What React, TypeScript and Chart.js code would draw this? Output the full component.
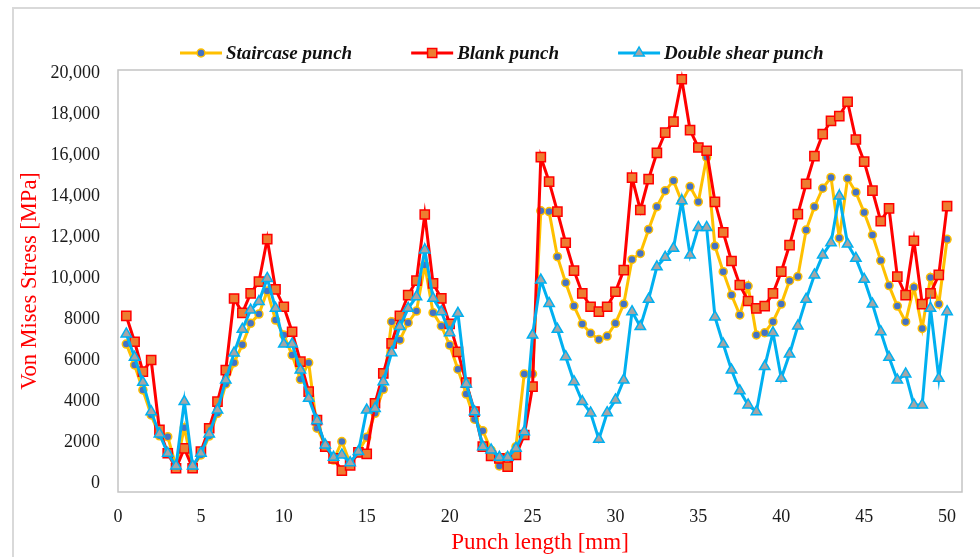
import React, { useEffect, useRef } from 'react';
import { Chart, registerables } from 'chart.js';

Chart.register(...registerables);

const punchLength = [
  0.5, 1, 1.5, 2, 2.5, 3, 3.5, 4, 4.5, 5, 5.5, 6, 6.5, 7, 7.5, 8, 8.5, 9, 9.5, 10,
  10.5, 11, 11.5, 12, 12.5, 13, 13.5, 14, 14.5, 15, 15.5, 16, 16.5, 17, 17.5, 18, 18.5, 19, 19.5, 20,
  20.5, 21, 21.5, 22, 22.5, 23, 23.5, 24, 24.5, 25, 25.5, 26, 26.5, 27, 27.5, 28, 28.5, 29, 29.5, 30,
  30.5, 31, 31.5, 32, 32.5, 33, 33.5, 34, 34.5, 35, 35.5, 36, 36.5, 37, 37.5, 38, 38.5, 39, 39.5, 40,
  40.5, 41, 41.5, 42, 42.5, 43, 43.5, 44, 44.5, 45, 45.5, 46, 46.5, 47, 47.5, 48, 48.5, 49, 49.5, 50,
];

const staircasePunch = [
  6780, 5760, 4540, 3320, 2300, 2260, 800, 2700, 770, 1370, 2290, 3400, 4830, 5870, 6750, 7790, 8240, 9370, 7950, 7220,
  6240, 5060, 5870, 2670, 1850, 1120, 2020, 960, 1530, 2230, 3400, 4570, 7870, 6980, 7820, 8390, 10630, 8310, 7660, 6730,
  5550, 4340, 3110, 2550, 1600, 830, 1290, 1770, 5320, 5320, 13280, 13240, 11040, 9770, 8630, 7760, 7300, 7000, 7170, 7790,
  8730, 10910, 11200, 12370, 13480, 14260, 14750, 13720, 14460, 13720, 15890, 11560, 10310, 9170, 8200, 9610, 7220, 7330, 7870, 8730,
  9870, 10070, 12340, 13480, 14380, 14910, 11950, 14860, 14180, 13200, 12100, 10850, 9630, 8630, 7870, 9550, 7540, 10030, 8730, 11890,
];

const blankPunch = [
  8150, 6890, 5430, 6000, 2590, 1450, 720, 1690, 720, 1530, 2670, 3970, 5510, 9000, 8300, 9250, 9820, 11900, 9450, 8600,
  7380, 5920, 4460, 3070, 1770, 1200, 600, 860, 1490, 1420, 3890, 5350, 6810, 8150, 9170, 9870, 13100, 9740, 9010, 7760,
  6400, 4900, 3480, 1770, 1320, 1200, 800, 1370, 2340, 4700, 15900, 14700, 13240, 11720, 10360, 9250, 8600, 8360, 8600, 9330,
  10390, 14900, 13320, 14830, 16110, 17090, 17630, 19700, 17220, 16370, 16210, 13720, 12230, 10830, 9660, 8880, 8520, 8630, 9250, 10310,
  11610, 13120, 14590, 15950, 17020, 17670, 17900, 18600, 16760, 15680, 14260, 12780, 13400, 10070, 9170, 11820, 8730, 9250, 10150, 13510,
];

const doubleShearPunch = [
  7270, 6130, 4910, 3480, 2390, 1450, 830, 3970, 830, 1450, 2390, 3560, 5020, 6340, 7500, 8440, 8850, 9980, 8520, 6780,
  6780, 5510, 4130, 3040, 1850, 1250, 1370, 990, 1530, 3560, 3640, 4940, 6360, 7630, 8520, 9090, 11370, 9010, 8360, 7330,
  8280, 4830, 3480, 1770, 1610, 1250, 1250, 1690, 2500, 7220, 9900, 8760, 7500, 6160, 4940, 3970, 3420, 2130, 3430, 4050,
  5020, 8360, 7630, 8960, 10550, 11010, 11450, 13770, 11120, 12470, 12470, 8100, 6780, 5510, 4500, 3810, 3480, 5680, 7330, 5110,
  6290, 7660, 8960, 10150, 11120, 11720, 14000, 11660, 10960, 9940, 8730, 7380, 6130, 5020, 5320, 3810, 3810, 8520, 5110, 8360,
];

const xTicks = [0, 5, 10, 15, 20, 25, 30, 35, 40, 45, 50];
const yTicks = [0, 2000, 4000, 6000, 8000, 10000, 12000, 14000, 16000, 18000, 20000];
const yTickLabels = ['0', '2000', '4000', '6000', '8000', '10,000', '12,000', '14,000', '16,000', '18,000', '20,000'];

const seriesNames = ['Staircase punch', 'Blank punch', 'Double shear punch'];

function drawMarker(ctx: CanvasRenderingContext2D, style: string, x: number, y: number, r: number, fill: string, stroke: string, bw: number) {
  ctx.save();
  ctx.beginPath();
  if (style === 'rect') {
    const s = Math.SQRT1_2 * r;
    ctx.rect(x - s, y - s, 2 * s, 2 * s);
  } else if (style === 'triangle') {
    ctx.moveTo(x, y - r);
    ctx.lineTo(x + r * 0.866, y + r * 0.5);
    ctx.lineTo(x - r * 0.866, y + r * 0.5);
    ctx.closePath();
  } else {
    ctx.arc(x, y, r, 0, Math.PI * 2);
  }
  ctx.fillStyle = fill;
  ctx.fill();
  ctx.lineWidth = bw;
  ctx.strokeStyle = stroke;
  ctx.stroke();
  ctx.restore();
}

const framePlugin = {
  id: 'frame',
  beforeDatasetsDraw(chart: any) {
    const { ctx, chartArea } = chart;
    ctx.save();
    ctx.strokeStyle = '#d9d9d9';
    ctx.lineWidth = 2;
    ctx.strokeRect(13, 8, 1000, 600);
    ctx.strokeStyle = '#c4c4c4';
    ctx.lineWidth = 1.5;
    ctx.strokeRect(chartArea.left, chartArea.top, chartArea.right - chartArea.left, chartArea.bottom - chartArea.top);
    ctx.restore();
  },
};

const legendPlugin = {
  id: 'lineLegend',
  afterDraw(chart: any) {
    const ctx: CanvasRenderingContext2D = chart.ctx;
    ctx.save();
    ctx.font = 'italic bold 19px "Liberation Serif", "Times New Roman", serif';
    ctx.textBaseline = 'middle';
    ctx.textAlign = 'left';
    let x = 180;
    const y = 53;
    chart.data.datasets.forEach((ds: any) => {
      ctx.strokeStyle = ds.borderColor;
      ctx.lineWidth = 3;
      ctx.beginPath();
      ctx.moveTo(x, y);
      ctx.lineTo(x + 42, y);
      ctx.stroke();
      drawMarker(ctx, ds.pointStyle, x + 21, y, ds.pointRadius, ds.pointBackgroundColor, ds.borderColor, ds.pointBorderWidth);
      ctx.fillStyle = '#111';
      ctx.fillText(ds.label, x + 46, y + 1);
      x += 46 + ctx.measureText(ds.label).width + 59;
    });
    ctx.restore();
  },
};

export default function App() {
  const canvasRef = useRef<HTMLCanvasElement | null>(null);

  useEffect(() => {
    document.body.style.margin = '0';
    const canvas = canvasRef.current;
    if (!canvas) return;
    const toPoints = (vals: number[]) => vals.map((v, i) => ({ x: punchLength[i], y: v }));
    const chart = new Chart(canvas, {
      type: 'line',
      data: {
        datasets: [
          {
            label: seriesNames[0],
            data: toPoints(staircasePunch),
            borderColor: '#FFC000',
            backgroundColor: '#FFC000',
            borderWidth: 3,
            pointStyle: 'circle',
            pointRadius: 4,
            pointBorderWidth: 1.5,
            pointBackgroundColor: '#4472C4',
            pointBorderColor: '#FFC000',
            order: 2,
            tension: 0,
          },
          {
            label: seriesNames[1],
            data: toPoints(blankPunch),
            borderColor: '#FF0000',
            backgroundColor: '#FF0000',
            borderWidth: 3,
            pointStyle: 'rect',
            pointRadius: 6.5,
            pointBorderWidth: 1.5,
            pointBackgroundColor: '#ED7D31',
            pointBorderColor: '#FF0000',
            order: 1,
            tension: 0,
          },
          {
            label: seriesNames[2],
            data: toPoints(doubleShearPunch),
            borderColor: '#00B0F0',
            backgroundColor: '#00B0F0',
            borderWidth: 3,
            pointStyle: 'triangle',
            pointRadius: 6,
            pointBorderWidth: 1.5,
            pointBackgroundColor: '#A5A5A5',
            pointBorderColor: '#00B0F0',
            order: 0,
            tension: 0,
          },
        ],
      },
      options: {
        responsive: false,
        animation: false,
        layout: { padding: { top: 70, right: 18, bottom: 0, left: 0 } },
        plugins: {
          legend: { display: false },
          tooltip: { enabled: false },
          title: { display: false },
        },
        scales: {
          x: {
            type: 'linear',
            min: 0,
            max: 50.9,
            afterBuildTicks: (scale: any) => {
              scale.ticks = xTicks.map((v) => ({ value: v }));
            },
            afterFit: (scale: any) => {
              scale.height = 65;
            },
            grid: { display: false, drawTicks: false },
            border: { display: false },
            ticks: {
              padding: 14,
              autoSkip: false,
              maxRotation: 0,
              color: '#1a1a1a',
              font: { family: '"Liberation Serif", "Times New Roman", serif', size: 18 },
              callback: (v: any) => String(v),
            },
            title: {
              display: true,
              text: 'Punch length [mm]',
              color: '#FF0000',
              font: { family: '"Liberation Serif", "Times New Roman", serif', size: 23 },
              padding: { top: 0, bottom: 0 },
            },
          },
          y: {
            type: 'linear',
            min: -440,
            max: 20150,
            afterBuildTicks: (scale: any) => {
              scale.ticks = yTicks.map((v) => ({ value: v }));
            },
            afterFit: (scale: any) => {
              scale.width = 118;
            },
            grid: { display: false, drawTicks: false },
            border: { display: false },
            ticks: {
              padding: 18,
              autoSkip: false,
              color: '#1a1a1a',
              font: { family: '"Liberation Serif", "Times New Roman", serif', size: 18 },
              callback: (v: any) => {
                const i = yTicks.indexOf(Number(v));
                return i >= 0 ? yTickLabels[i] : '';
              },
            },
            title: {
              display: true,
              text: 'Von Mises Stress [MPa]',
              color: '#FF0000',
              font: { family: '"Liberation Serif", "Times New Roman", serif', size: 22.5 },
              padding: { top: 17, bottom: 0 },
            },
          },
        },
      },
      plugins: [framePlugin, legendPlugin],
    });
    return () => chart.destroy();
  }, []);

  return (
    <div style={{ width: 980, height: 557, position: 'relative' }}>
      <canvas ref={canvasRef} width={980} height={557} style={{ display: 'block', width: 980, height: 557 }} />
    </div>
  );
}
